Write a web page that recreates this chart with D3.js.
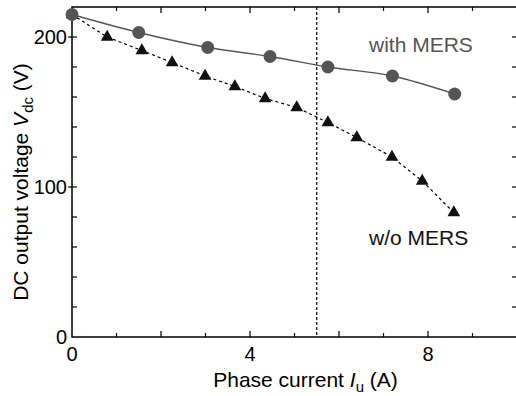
<!DOCTYPE html>
<html>
<head>
<meta charset="utf-8">
<script src="https://cdn.jsdelivr.net/npm/d3@7"></script>
<style>
  body { margin: 0; background: #fff; }
  text { font-family: "Liberation Sans", Arial, Helvetica, sans-serif; }
</style>
</head>
<body>
<div id="chart"></div>
<script>
// data
var withCurrent = [0, 1.5, 3.05, 4.45, 5.75, 7.2, 8.6];
var withVoltage = [215, 203, 193, 187, 180, 174, 162];

var woCurrent = [0, 0.79, 1.57, 2.25, 2.99, 3.66, 4.34, 5.05, 5.75, 6.4, 7.19, 7.87, 8.58];
var woVoltage = [215, 200, 191, 183, 174, 167, 159, 153, 143, 133, 120, 104, 83];

var markerCurrent = 5.5;   // vertical dashed line
var xLabels = [0, 4, 8];
var yLabels = [0, 100, 200];

var W = 516, H = 396;
var margin = {top: 7, right: -1, bottom: 59, left: 72};

var svg = d3.select("#chart").append("svg")
    .attr("width", W)
    .attr("height", H);

var x = d3.scaleLinear().domain([0, 10]).range([margin.left, W - margin.right]);
var y = d3.scaleLinear().domain([0, 220]).range([H - margin.bottom, margin.top]);

var x0 = x.range()[0], x1 = x.range()[1], y0 = y.range()[0], y1 = y.range()[1];

// frame
svg.append("rect")
    .attr("x", x0).attr("y", y1)
    .attr("width", x1 - x0).attr("height", y0 - y1)
    .attr("fill", "none").attr("stroke", "#000").attr("stroke-width", 1.5);

var ticks = svg.append("g").attr("stroke", "#000").attr("stroke-width", 1.2);

// x ticks, bottom and top, pointing in
d3.range(1, 10).forEach(function(v) {
    var len = v % 2 === 0 ? 6 : 4;
    ticks.append("line").attr("x1", x(v)).attr("x2", x(v)).attr("y1", y0).attr("y2", y0 - len);
    ticks.append("line").attr("x1", x(v)).attr("x2", x(v)).attr("y1", y1).attr("y2", y1 + len);
});

// y ticks, left and right
d3.range(20, 220, 20).forEach(function(v) {
    var major = v % 100 === 0;
    ticks.append("line").attr("x1", x0 - (major ? 4 : 0)).attr("x2", x0 + 5).attr("y1", y(v)).attr("y2", y(v));
    ticks.append("line").attr("x1", x1).attr("x2", x1 - 5).attr("y1", y(v)).attr("y2", y(v));
});

// tick labels
svg.append("g").selectAll("text").data(xLabels).enter().append("text")
    .attr("x", function(d) { return x(d); })
    .attr("y", y0 + 24)
    .attr("text-anchor", "middle")
    .style("font-size", "20px")
    .text(function(d) { return d; });

svg.append("g").selectAll("text").data(yLabels).enter().append("text")
    .attr("x", x0 - 5)
    .attr("y", function(d) { return y(d) + 7; })
    .attr("text-anchor", "end")
    .style("font-size", "20px")
    .text(function(d) { return d; });

// axis titles
var xt = svg.append("text")
    .attr("x", (x0 + x1) / 2 + 11)
    .attr("y", 387)
    .attr("text-anchor", "middle")
    .style("font-size", "21px");
xt.append("tspan").text("Phase current ");
xt.append("tspan").style("font-style", "italic").text("I");
xt.append("tspan").attr("dy", 5).style("font-size", "15px").text("u");
xt.append("tspan").attr("dy", -5).text(" (A)");

var yt = svg.append("text")
    .attr("transform", "translate(28," + 182 + ") rotate(-90)")
    .attr("text-anchor", "middle")
    .style("font-size", "21px");
yt.append("tspan").text("DC output voltage ");
yt.append("tspan").style("font-style", "italic").text("V");
yt.append("tspan").attr("dy", 5).style("font-size", "15px").text("dc");
yt.append("tspan").attr("dy", -5).text(" (V)");

// vertical dashed marker
svg.append("line")
    .attr("x1", x(markerCurrent)).attr("x2", x(markerCurrent))
    .attr("y1", y1).attr("y2", y0)
    .attr("stroke", "#000").attr("stroke-width", 1.2)
    .attr("stroke-dasharray", "3,2");

var withData = withCurrent.map(function(c, i) { return {x: c, y: withVoltage[i]}; });
var woData = woCurrent.map(function(c, i) { return {x: c, y: woVoltage[i]}; });

// w/o MERS: dashed line + triangles
svg.append("path")
    .datum(woData)
    .attr("d", d3.line().x(function(d) { return x(d.x); }).y(function(d) { return y(d.y); }))
    .attr("fill", "none").attr("stroke", "#000").attr("stroke-width", 1.2)
    .attr("stroke-dasharray", "3,3");

svg.append("g").selectAll("path").data(woData).enter().append("path")
    .attr("transform", function(d) { return "translate(" + x(d.x) + "," + y(d.y) + ")"; })
    .attr("d", d3.symbol().type(d3.symbolTriangle).size(70))
    .attr("fill", "#111");

// with MERS: smooth solid line + circles
svg.append("path")
    .datum(withData)
    .attr("d", d3.line().curve(d3.curveMonotoneX).x(function(d) { return x(d.x); }).y(function(d) { return y(d.y); }))
    .attr("fill", "none").attr("stroke", "#555").attr("stroke-width", 1.3);

svg.append("g").selectAll("circle").data(withData).enter().append("circle")
    .attr("cx", function(d) { return x(d.x); })
    .attr("cy", function(d) { return y(d.y); })
    .attr("r", 6.5)
    .attr("fill", "#555");

// series labels
svg.append("text").attr("x", 369).attr("y", 52)
    .style("font-size", "21px").attr("fill", "#555").text("with MERS");
svg.append("text").attr("x", 369).attr("y", 245)
    .style("font-size", "21px").attr("fill", "#111").text("w/o MERS");
</script>
</body>
</html>
